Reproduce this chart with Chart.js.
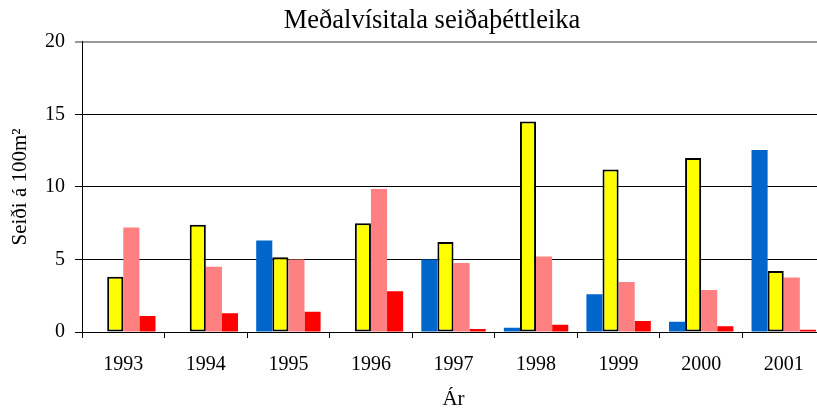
<!DOCTYPE html>
<html>
<head>
<meta charset="utf-8">
<script src="https://cdn.jsdelivr.net/npm/chart.js@4.4.0/dist/chart.umd.min.js"></script>
<style>
  html, body { margin: 0; padding: 0; background: #fff; }
  #wrap { width: 817px; height: 412px; overflow: hidden; }
</style>
</head>
<body>
<div id="wrap"><canvas id="seidiChart" width="864" height="412"></canvas></div>
<script>
var years = ["1993", "1994", "1995", "1996", "1997", "1998", "1999", "2000", "2001"];
var blueVals   = [0, 0, 6.3, 0, 5.0, 0.3, 2.6, 0.7, 12.55];
var yellowVals = [3.8, 7.4, 5.15, 7.5, 6.2, 14.5, 11.2, 12.0, 4.2];
var pinkVals   = [7.2, 4.5, 5.0, 9.85, 4.75, 5.2, 3.45, 2.9, 3.75];
var redVals    = [1.1, 1.3, 1.4, 2.8, 0.2, 0.5, 0.75, 0.4, 0.15];
var yTicks = [0, 5, 10, 15, 20];

var serif = "'Liberation Serif', 'Times New Roman', serif";
var ctx = document.getElementById('seidiChart').getContext('2d');

var data = {
  labels: years,
  datasets: [
    { label: "a", data: blueVals, backgroundColor: "#0066CC", borderWidth: 0 },
    { label: "b", data: yellowVals, backgroundColor: "#FFFF00", borderColor: "#000", borderWidth: 2, borderSkipped: false },
    { label: "c", data: pinkVals, backgroundColor: "#FF8080", borderWidth: 0 },
    { label: "d", data: redVals, backgroundColor: "#FF0000", borderWidth: 0 }
  ]
};

// left padding 39 + y axis 43 = plot left at 82; keeps the title centred near x=432
var options = {
  responsive: false,
  animation: false,
  layout: { padding: { left: 39, right: 39, top: 0, bottom: 0 } },
  datasets: { bar: { categoryPercentage: 0.78, barPercentage: 1 } },
  plugins: {
    legend: { display: false },
    tooltip: { enabled: false },
    title: {
      display: true,
      text: "Meðalvísitala seiðaþéttleika",
      color: "#000",
      font: { family: serif, size: 26.5, weight: 'normal', lineHeight: 1.2 },
      padding: { top: 5, bottom: 5 }
    }
  },
  scales: {
    x: {
      grid: { drawOnChartArea: false, drawTicks: true, tickLength: 6, color: "#000", offset: true },
      border: { display: true, color: "#000", width: 1 },
      ticks: { color: "#000", font: { family: serif, size: 20 }, padding: 15, maxRotation: 0 },
      title: { display: true, text: "Ár", color: "#000", font: { family: serif, size: 21 }, padding: { top: 0, bottom: 0 } },
      afterFit: function(scale) { scale.height = 80; }
    },
    y: {
      min: 0,
      max: 20,
      afterBuildTicks: function(scale) { scale.ticks = yTicks.map(function(v){ return { value: v }; }); },
      grid: {
        color: function(c) { return c.tick && c.tick.value === 20 ? "#999" : "#000"; },
        lineWidth: function(c) { return c.tick && c.tick.value === 20 ? 2 : 1; },
        tickLength: 7
      },
      border: { display: true, color: "#000", width: 1 },
      ticks: { color: "#000", font: { family: serif, size: 20 }, padding: 10 },
      title: { display: true, text: "Seiði á 100m²", color: "#000", font: { family: serif, size: 21 }, padding: { top: -31, bottom: 0 } },
      afterFit: function(scale) { scale.width = 43; }
    }
  }
};

var seidiChart = new Chart(ctx, { type: 'bar', data: data, options: options });
</script>
</body>
</html>
